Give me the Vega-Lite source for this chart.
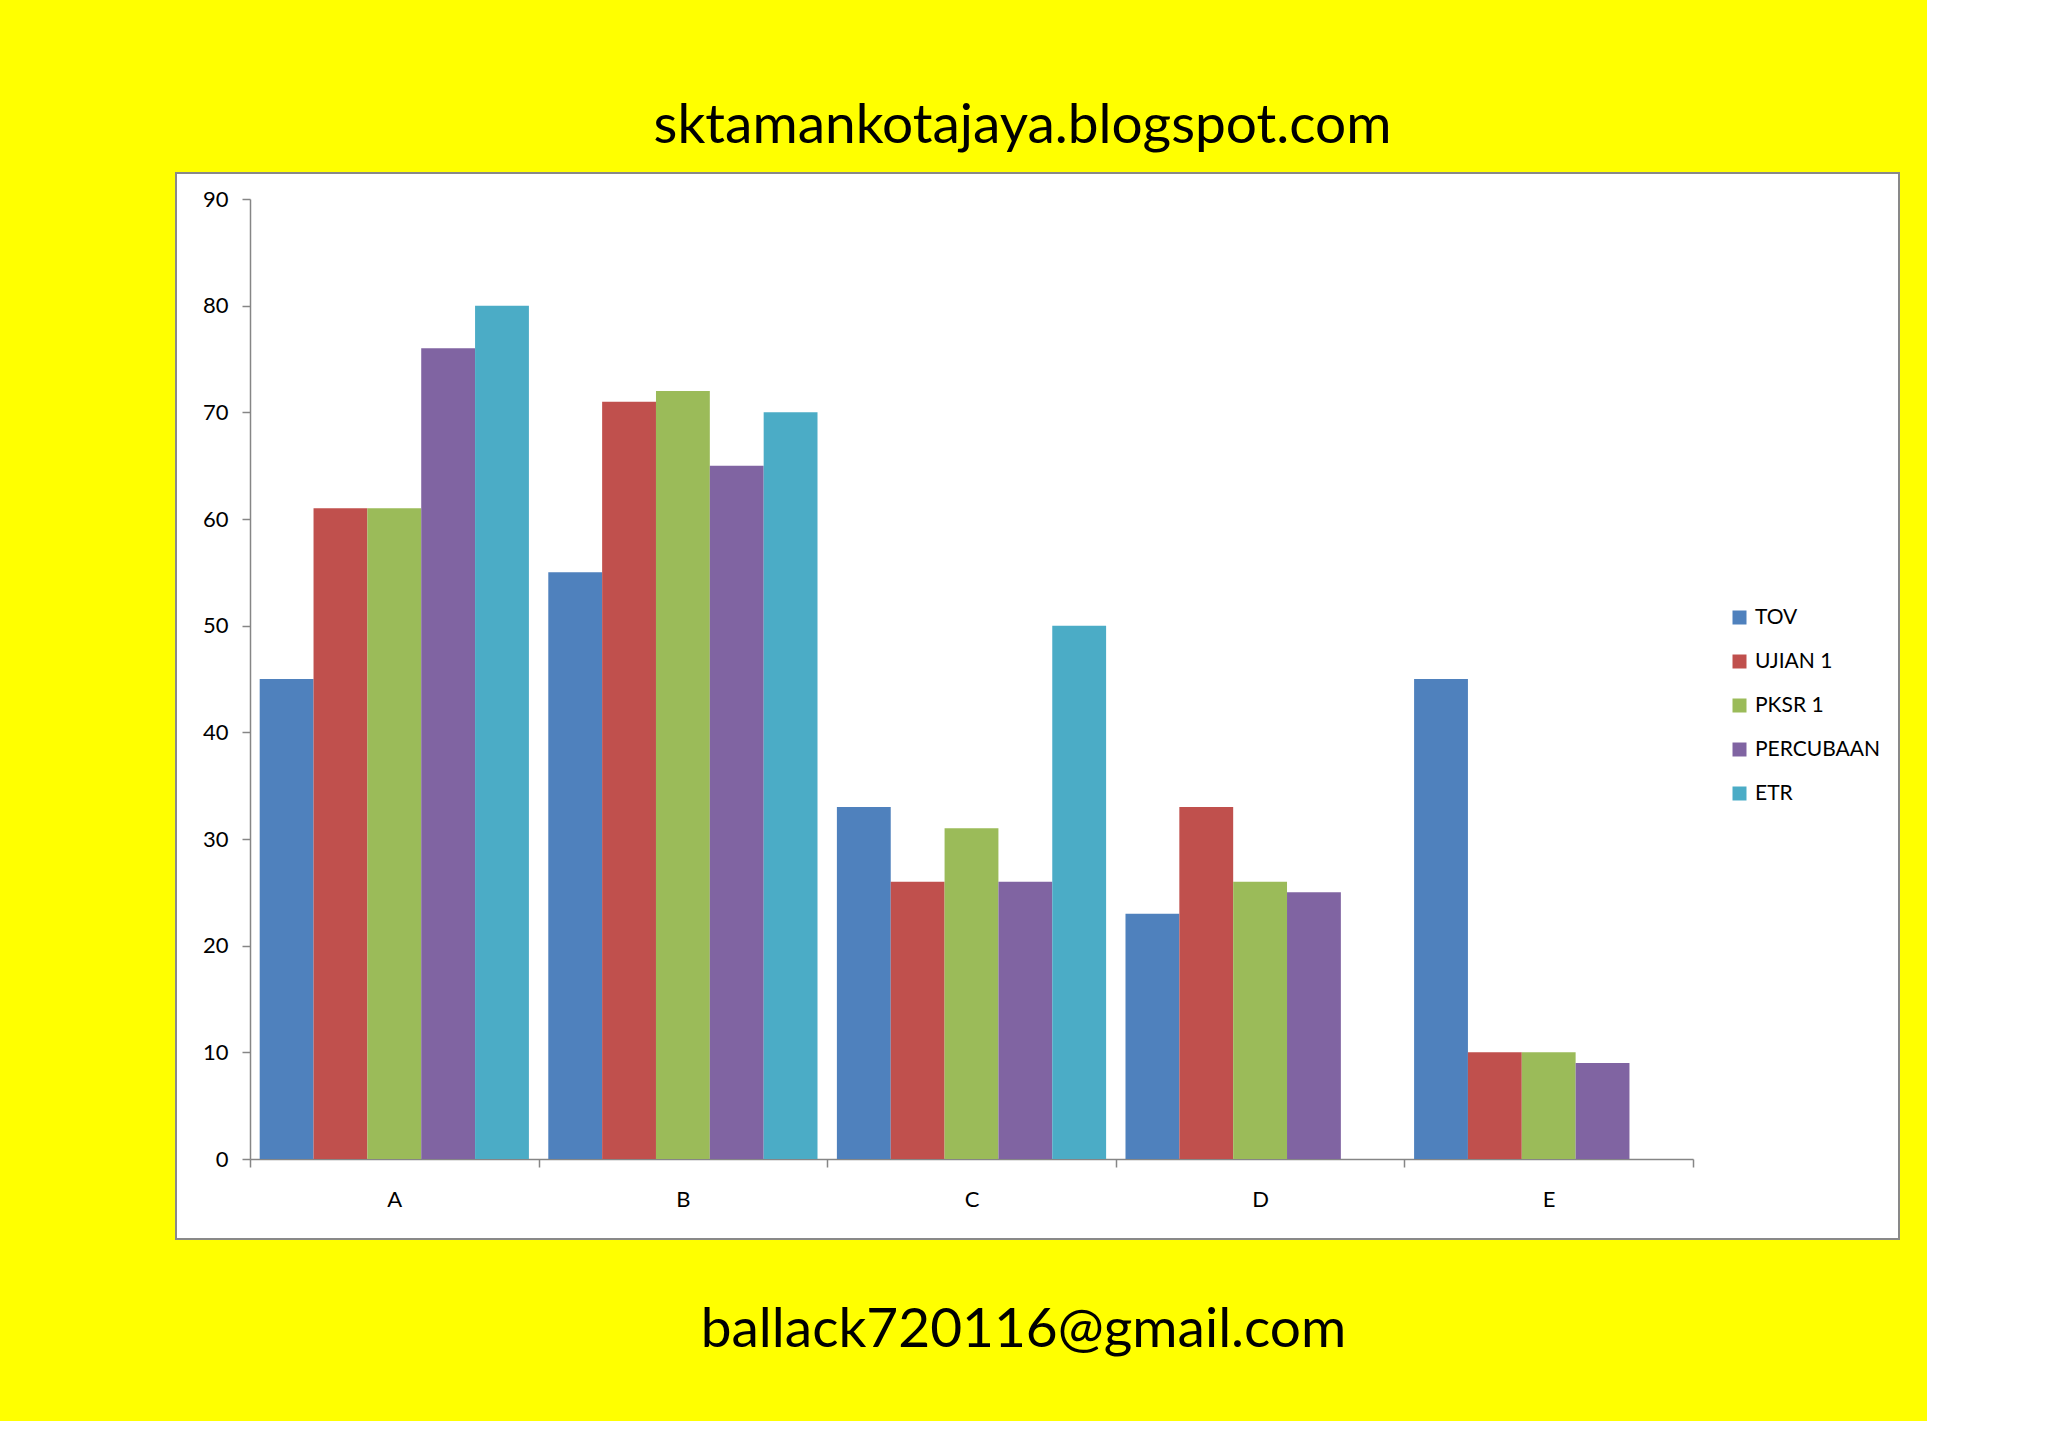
{
  "$schema": "https://vega.github.io/schema/vega-lite/v6.json",
  "width": 1723,
  "height": 1066,
  "autosize": {"type": "none"},
  "padding": {"left": 176, "top": 173, "right": 28, "bottom": 182},
  "background": "#FFFF00",
  "title": {
    "text": "sktamankotajaya.blogspot.com",
    "frame": "group",
    "anchor": "middle",
    "dx": -15,
    "dy": 57,
    "offset": 32,
    "baseline": "alphabetic",
    "fontSize": 55,
    "font": "Lato",
    "fontWeight": "normal",
    "color": "#000000"
  },
  "data": {
    "values": [
      {"grade": "A", "exam": "TOV", "value": 45},
      {"grade": "A", "exam": "UJIAN 1", "value": 61},
      {"grade": "A", "exam": "PKSR 1", "value": 61},
      {"grade": "A", "exam": "PERCUBAAN", "value": 76},
      {"grade": "A", "exam": "ETR", "value": 80},
      {"grade": "B", "exam": "TOV", "value": 55},
      {"grade": "B", "exam": "UJIAN 1", "value": 71},
      {"grade": "B", "exam": "PKSR 1", "value": 72},
      {"grade": "B", "exam": "PERCUBAAN", "value": 65},
      {"grade": "B", "exam": "ETR", "value": 70},
      {"grade": "C", "exam": "TOV", "value": 33},
      {"grade": "C", "exam": "UJIAN 1", "value": 26},
      {"grade": "C", "exam": "PKSR 1", "value": 31},
      {"grade": "C", "exam": "PERCUBAAN", "value": 26},
      {"grade": "C", "exam": "ETR", "value": 50},
      {"grade": "D", "exam": "TOV", "value": 23},
      {"grade": "D", "exam": "UJIAN 1", "value": 33},
      {"grade": "D", "exam": "PKSR 1", "value": 26},
      {"grade": "D", "exam": "PERCUBAAN", "value": 25},
      {"grade": "E", "exam": "TOV", "value": 45},
      {"grade": "E", "exam": "UJIAN 1", "value": 10},
      {"grade": "E", "exam": "PKSR 1", "value": 10},
      {"grade": "E", "exam": "PERCUBAAN", "value": 9}
    ]
  },
  "mark": {"type": "bar"},
  "encoding": {
    "x": {
      "field": "grade",
      "type": "nominal",
      "scale": {"domain": ["A", "B", "C", "D", "E"], "range": [74, 1517], "paddingInner": 0, "paddingOuter": 0},
      "axis": {
        "title": "ballack720116@gmail.com",
        "titleFont": "Lato",
        "titleFontSize": 55,
        "titleFontWeight": "normal",
        "titleColor": "#000000",
        "titleX": 847,
        "titleY": 187,
        "titleBaseline": "alphabetic",
        "titleAlign": "center",
        "offset": -80,
        "domainColor": "#868686",
        "domainWidth": 1.5,
        "tickColor": "#868686",
        "tickWidth": 1.5,
        "tickSize": 8,
        "tickBand": "extent",
        "labelFont": "Lato",
        "labelFontSize": 22,
        "labelColor": "#000000",
        "labelPadding": 22,
        "labelAngle": 0,
        "grid": false
      }
    },
    "xOffset": {
      "field": "exam",
      "type": "nominal",
      "scale": {"domain": ["TOV", "UJIAN 1", "PKSR 1", "PERCUBAAN", "ETR"], "paddingInner": 0, "paddingOuter": 0.18}
    },
    "y": {
      "field": "value",
      "type": "quantitative",
      "scale": {"domain": [0, 90], "range": [986, 26], "nice": false},
      "axis": {
        "title": null,
        "offset": -74,
        "values": [0, 10, 20, 30, 40, 50, 60, 70, 80, 90],
        "domainColor": "#868686",
        "domainWidth": 1.5,
        "tickColor": "#868686",
        "tickWidth": 1.5,
        "tickSize": 8,
        "labelFont": "Lato",
        "labelFontSize": 22,
        "labelColor": "#000000",
        "labelPadding": 14,
        "grid": false
      }
    },
    "color": {
      "field": "exam",
      "type": "nominal",
      "scale": {
        "domain": ["TOV", "UJIAN 1", "PKSR 1", "PERCUBAAN", "ETR"],
        "range": ["#4F81BD", "#C0504D", "#9BBB59", "#8064A2", "#4BACC6"]
      },
      "legend": {
        "title": null,
        "orient": "none",
        "legendX": 1553,
        "legendY": 434,
        "symbolType": "square",
        "symbolSize": 196,
        "symbolStrokeWidth": 0,
        "labelFont": "Lato",
        "labelFontSize": 21,
        "labelColor": "#000000",
        "labelOffset": 5,
        "rowPadding": 22,
        "padding": 0
      }
    }
  },
  "config": {
    "view": {"fill": "#FFFFFF", "stroke": "#898989", "strokeWidth": 2}
  }
}
